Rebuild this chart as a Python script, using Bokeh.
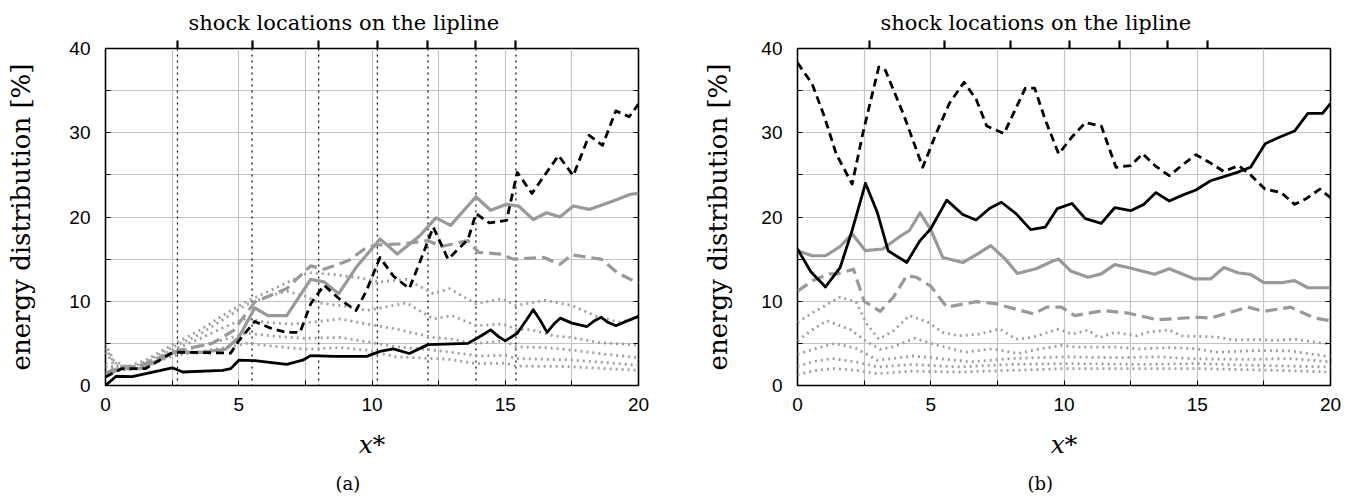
from bokeh.plotting import figure
from bokeh.models import FixedTicker, LinearAxis, Range1d, Span, Title
from bokeh.layouts import row
from bokeh.embed import file_html
from bokeh.resources import INLINE

# ---------------- data ----------------
shock_x = [2.7, 5.5, 8.0, 10.2, 12.1, 13.9, 15.4]
x_ticks = [0, 5, 10, 15, 20]
x_minor = [2.5, 7.5, 12.5, 17.5]
y_ticks = [0, 10, 20, 30, 40]
y_minor = [5, 15, 25, 35]

# panel (a)
a_bs_x = [0, 0.4, 1.0, 2.5, 2.9, 4.4, 4.7, 5.0, 5.6, 6.8, 7.4, 7.7, 8.6, 9.8, 10.3, 10.8, 11.4, 12.1, 13.0, 13.6,
          14.1, 14.45, 14.75, 15.0, 15.45, 15.8, 16.05, 16.3, 16.57, 16.8, 17.07, 17.5, 18.07, 18.35, 18.6, 18.85,
          19.15, 19.6, 20]
a_bs_y = [0, 1.1, 1.05, 2.1, 1.6, 1.8, 2.0, 3.0, 2.95, 2.5, 3.0, 3.55, 3.45, 3.45, 4.05, 4.35, 3.8, 4.85, 4.95, 5.0,
          5.9, 6.6, 5.8, 5.3, 6.2, 7.8, 9.0, 7.8, 6.3, 7.2, 8.0, 7.4, 7.0, 7.7, 8.1, 7.5, 7.1, 7.7, 8.2]

a_bd_x = [0, 0.6, 1.5, 2.5, 2.8, 4.7, 5.0, 5.6, 6.2, 6.8, 7.3, 7.7, 8.2, 8.8, 9.4, 9.8, 10.3, 10.8, 11.4, 11.9,
          12.3, 12.85, 13.6, 13.9, 14.4, 15.05, 15.45, 16.0, 17.0, 17.55, 18.15, 18.65, 19.15, 19.65, 20]
a_bd_y = [1.0, 2.0, 2.0, 3.9, 3.95, 3.85, 5.3, 7.6, 6.8, 6.3, 6.3, 9.7, 11.9, 10.2, 8.9, 11.3, 15.2, 13.0, 11.5, 15.5,
          18.8, 15.0, 17.3, 20.4, 19.3, 19.6, 25.3, 22.8, 27.3, 24.9, 29.7, 28.5, 32.6, 31.9, 33.4]

a_gs_x = [0, 0.6, 1.3, 2.0, 2.6, 3.5, 4.5, 5.0, 5.6, 6.1, 6.8, 7.7, 8.2, 8.75, 9.4, 10.3, 10.95, 11.8, 12.4, 12.95,
          13.9, 14.45, 15.05, 15.5, 16.05, 16.55, 17.05, 17.55, 18.15, 19.05, 19.7, 20]
a_gs_y = [1.2, 2.0, 2.0, 3.0, 4.0, 3.9, 4.3, 5.7, 9.2, 8.3, 8.3, 12.6, 12.3, 10.9, 14.0, 17.4, 15.6, 17.8, 19.9, 19.0,
          22.4, 20.8, 21.5, 21.3, 19.7, 20.5, 20.0, 21.3, 20.9, 21.9, 22.7, 22.8]

a_gd_x = [0, 0.6, 1.3, 2.0, 2.8, 4.0, 4.8, 5.6, 6.8, 7.7, 8.2, 9.1, 9.8, 10.3, 11.1, 12.1, 12.6, 13.6, 14.0, 14.8,
          15.3, 16.45, 17.05, 17.5, 18.6, 19.2, 20]
a_gd_y = [1.5, 2.2, 2.3, 3.3, 4.2, 5.0, 6.5, 9.9, 11.5, 14.2, 13.8, 14.8, 16.4, 16.7, 16.8, 17.2, 16.5, 17.2, 15.8,
          15.6, 15.0, 15.2, 14.4, 15.5, 15.0, 13.4, 12.1]

a_d1_x = [0, 0.3, 0.8, 1.5, 2.5, 3.5, 4.5, 5.3, 6.0, 7.0, 7.6, 8.5, 9.5, 10.3, 11.3, 12.3, 12.9, 13.9, 14.9, 15.4,
          16.5, 17.5, 18.5, 19.3, 20]
a_d1_y = [5.0, 3.0, 2.2, 3.0, 4.8, 6.5, 8.5, 10.0, 11.0, 12.5, 13.4, 13.2, 12.8, 12.3, 12.6, 10.9, 11.5, 9.7, 10.3,
          9.5, 10.1, 9.5, 8.1, 7.5, 8.1]
a_d2_x = [0, 0.3, 0.8, 1.5, 2.5, 3.5, 4.5, 5.3, 6.0, 6.8, 7.5, 8.0, 9.0, 9.8, 11.3, 12.3, 13.0, 13.9, 14.9, 15.4,
          16.0, 16.8, 17.5, 18.5, 20]
a_d2_y = [4.5, 2.8, 2.0, 2.8, 4.5, 6.0, 8.0, 9.6, 10.5, 11.2, 10.6, 9.8, 9.4, 8.9, 9.8, 7.9, 8.3, 7.1, 7.3, 6.7,
          6.6, 5.9, 5.7, 5.1, 4.8]
a_d3_x = [0, 0.3, 0.8, 1.5, 2.5, 3.5, 4.5, 5.3, 6.0, 7.0, 8.0, 8.8, 9.8, 10.9, 12.3, 13.0, 13.9, 15.0, 15.4, 16.5,
          17.5, 18.5, 20]
a_d3_y = [4.0, 2.5, 2.0, 2.6, 4.2, 5.5, 7.0, 8.0, 7.5, 7.3, 7.6, 7.9, 7.3, 6.7, 5.7, 5.5, 5.0, 5.3, 4.6, 4.5,
          4.2, 3.8, 3.3]
a_d4_x = [0, 0.3, 0.8, 1.5, 2.5, 3.5, 4.5, 5.3, 6.5, 7.5, 8.8, 9.8, 10.9, 12.3, 13.1, 14.0, 15.0, 15.4, 17.3,
          18.5, 20]
a_d4_y = [2.6, 2.2, 1.9, 2.4, 3.8, 4.6, 5.5, 6.2, 5.8, 5.6, 5.7, 5.2, 4.6, 4.2, 3.9, 3.5, 3.6, 3.2, 3.05, 2.8, 2.4]
a_d5_x = [0, 0.3, 0.8, 1.5, 2.5, 3.5, 4.5, 5.3, 6.5, 7.5, 8.8, 9.8, 10.9, 12.3, 12.9, 13.9, 15.0, 15.4, 17.3, 20]
a_d5_y = [2.2, 2.0, 1.8, 2.2, 3.5, 4.0, 4.5, 5.0, 4.6, 4.3, 4.5, 4.2, 3.4, 3.2, 3.1, 2.6, 2.65, 2.3, 2.25, 1.8]

# panel (b)
b_bs_x = [0, 0.5, 1.05, 1.6, 2.05, 2.55, 3.0, 3.4, 4.1, 4.6, 5.0, 5.6, 6.2, 6.7, 7.2, 7.65, 8.2, 8.75, 9.3, 9.75,
          10.3, 10.8, 11.4, 11.9, 12.5, 13.0, 13.45, 13.95, 14.45, 14.95, 15.5, 16.0, 16.5, 17.0, 17.55, 18.1,
          18.65, 19.15, 19.7, 20]
b_bs_y = [16.2, 13.5, 11.7, 14.0, 18.4, 24.0, 20.5, 16.0, 14.6, 17.2, 18.6, 22.0, 20.3, 19.65, 21.0, 21.75, 20.4,
          18.5, 18.8, 21.0, 21.6, 19.8, 19.25, 21.1, 20.75, 21.5, 22.9, 21.9, 22.6, 23.2, 24.3, 24.8, 25.3, 25.9,
          28.7, 29.5, 30.2, 32.3, 32.3, 33.5]

b_bd_x = [0, 0.55, 1.0, 1.45, 2.05, 2.45, 3.05, 3.3, 4.0, 4.7, 5.2, 5.7, 6.25, 6.7, 7.1, 7.75, 8.15, 8.55, 8.9,
          9.3, 9.8, 10.3, 10.8, 11.4, 11.95, 12.5, 12.95, 13.45, 13.95, 14.45, 14.95, 15.5, 16.0, 16.55, 17.0,
          17.55, 18.15, 18.65, 19.1, 19.6, 20]
b_bd_y = [38.3, 35.8, 32.0, 27.5, 23.9, 29.9, 37.8, 37.4, 32.0, 25.9, 29.9, 33.5, 36.0, 34.0, 30.8, 29.9, 32.6,
          35.3, 35.3, 31.5, 27.5, 29.5, 31.2, 30.8, 25.9, 26.1, 27.5, 26.0, 24.9, 26.2, 27.4, 26.4, 25.4, 26.1,
          25.0, 23.3, 22.9, 21.5, 22.2, 23.3, 22.3]

b_gs_x = [0, 0.55, 1.05, 1.6, 2.05, 2.55, 3.2, 3.8, 4.2, 4.6, 5.0, 5.45, 6.2, 6.7, 7.25, 7.8, 8.25, 8.95, 9.6, 9.8,
          10.25, 10.9, 11.4, 11.9, 12.4, 13.4, 13.95, 14.9, 15.5, 16.0, 16.55, 17.0, 17.5, 18.15, 18.65, 19.15, 20]
b_gs_y = [16.0, 15.4, 15.4, 16.5, 18.0, 16.0, 16.2, 17.6, 18.4, 20.5, 18.5, 15.2, 14.6, 15.5, 16.6, 15.0, 13.3,
          13.85, 14.8, 15.0, 13.6, 12.85, 13.25, 14.35, 14.0, 13.2, 13.85, 12.65, 12.65, 14.0, 13.35, 13.2, 12.2,
          12.2, 12.45, 11.6, 11.6]

b_gd_x = [0, 0.6, 1.2, 1.5, 2.1, 2.5, 3.1, 3.6, 4.1, 4.45, 5.0, 5.6, 6.7, 7.45, 8.85, 9.35, 9.9, 10.4, 11.5, 12.4,
          13.5, 15.0, 15.5, 16.9, 17.5, 18.5, 19.4, 20]
b_gd_y = [11.2, 12.5, 13.25, 13.25, 13.8, 10.0, 8.8, 10.5, 13.05, 12.85, 11.8, 9.3, 9.95, 9.7, 8.5, 9.3, 9.3, 8.3,
          8.9, 8.6, 7.8, 8.1, 8.0, 9.3, 8.8, 9.3, 8.0, 7.7]

b_d1_x = [0, 0.6, 1.6, 2.2, 2.6, 3.05, 3.6, 4.2, 4.9, 5.45, 6.05, 6.8, 7.6, 8.2, 8.8, 9.8, 10.3, 10.9, 11.3, 11.9,
          12.75, 13.1, 13.95, 14.4, 15.75, 16.4, 17.25, 17.9, 18.65, 20]
b_d1_y = [7.5, 8.7, 10.5, 9.9, 7.3, 5.5, 6.5, 8.3, 7.5, 6.3, 5.9, 6.1, 6.7, 5.5, 5.7, 6.7, 6.1, 6.6, 5.65, 6.3,
          5.9, 6.3, 6.6, 5.9, 5.75, 5.4, 5.45, 5.35, 5.5, 4.9]
b_d2_x = [0, 0.5, 1.1, 2.0, 2.6, 3.1, 3.6, 4.4, 5.0, 5.5, 6.3, 7.3, 8.3, 9.0, 9.9, 10.5, 12.0, 12.8, 14.0, 15.0,
          15.75, 17.25, 18.5, 20]
b_d2_y = [5.3, 6.5, 7.7, 6.6, 5.2, 4.3, 4.6, 5.6, 5.0, 4.6, 3.95, 4.35, 3.8, 4.3, 4.75, 4.55, 4.55, 4.35, 4.5, 4.35,
          3.95, 4.15, 4.1, 3.4]
b_d3_x = [0, 0.7, 1.4, 2.2, 3.0, 3.6, 4.3, 5.0, 6.5, 8.0, 10.0, 12.0, 13.5, 15.0, 17.0, 18.5, 20]
b_d3_y = [3.7, 4.4, 5.0, 4.4, 3.0, 3.2, 3.5, 3.3, 2.8, 3.2, 3.4, 3.3, 3.4, 3.16, 3.1, 3.2, 2.8]
b_d4_x = [0, 0.7, 1.3, 2.2, 3.0, 4.3, 6.0, 8.0, 10.0, 13.0, 15.0, 17.0, 20]
b_d4_y = [2.3, 2.9, 3.2, 2.8, 2.2, 2.5, 2.2, 2.5, 2.6, 2.5, 2.6, 2.4, 2.2]
b_d5_x = [0, 0.7, 1.4, 2.2, 3.0, 4.3, 6.0, 9.0, 10.0, 15.0, 18.0, 20]
b_d5_y = [1.3, 1.8, 2.0, 1.8, 1.4, 1.7, 1.6, 1.9, 2.0, 2.0, 1.8, 1.6]

top_title = "shock locations on the lipline"
y_title = "energy distribution [%]"
x_title = "x*"

# ---------------- styles ----------------
BLACK = "#000000"
GRAY = "#999999"
DOT = "#a0a0a0"
GRID = "#c4c4c4"
SERIF = "DejaVu Serif"
SANS = "Liberation Sans"


def make_panel(series, tag, shock_lines, b_left, b_right, ylab_standoff):
    p = figure(frame_width=533, frame_height=337, output_backend="svg", toolbar_location=None,
               x_range=Range1d(0, 20), y_range=Range1d(0, 40),
               min_border_left=b_left, min_border_right=b_right, min_border_top=48, min_border_bottom=100,
               x_axis_location="below", y_axis_location="left")
    p.background_fill_color = "white"
    p.border_fill_color = "white"
    p.outline_line_color = BLACK
    p.outline_line_width = 1.6
    p.outline_line_alpha = 1.0

    # axes
    p.xaxis.ticker = FixedTicker(ticks=x_ticks, minor_ticks=x_minor)
    p.yaxis.ticker = FixedTicker(ticks=y_ticks, minor_ticks=y_minor)
    for ax in (p.xaxis[0], p.yaxis[0]):
        ax.axis_line_color = None
        ax.major_tick_in = 5
        ax.major_tick_out = 0
        ax.minor_tick_in = 5
        ax.minor_tick_out = 0
        ax.major_tick_line_color = BLACK
        ax.minor_tick_line_color = BLACK
        ax.major_label_text_font = SANS
        ax.major_label_text_font_size = "19px"
        ax.major_label_text_color = BLACK
    p.xaxis.major_label_standoff = 12
    p.yaxis.major_label_standoff = 15

    p.yaxis.axis_label = y_title
    p.yaxis.axis_label_text_font = SERIF
    p.yaxis.axis_label_text_font_style = "normal"
    p.yaxis.axis_label_text_font_size = "26px"
    p.yaxis.axis_label_text_color = BLACK
    p.yaxis.axis_label_standoff = ylab_standoff

    p.xaxis.axis_label = x_title
    p.xaxis.axis_label_text_font = SERIF
    p.xaxis.axis_label_text_font_style = "italic"
    p.xaxis.axis_label_text_font_size = "25px"
    p.xaxis.axis_label_text_color = BLACK
    p.xaxis.axis_label_standoff = 16

    right = LinearAxis(ticker=FixedTicker(ticks=y_ticks + y_minor), axis_line_color=None,
                       major_tick_in=5, major_tick_out=0, major_label_text_font_size="1px",
                       major_label_text_color=None, major_label_standoff=0)
    p.add_layout(right, "right")

    top = LinearAxis(ticker=FixedTicker(ticks=shock_x), axis_line_color=None,
                     major_tick_in=0, major_tick_out=8, major_tick_line_width=2.2,
                     major_tick_line_color=BLACK, major_label_text_font_size="1px",
                     major_label_text_color=None,
                     major_label_standoff=0, minor_tick_line_color=None)
    p.add_layout(top, "above")

    p.add_layout(Title(text=top_title, align="left", offset=83, text_font=SERIF, text_font_style="normal",
                       text_font_size="21px", text_color=BLACK, standoff=12), "above")
    p.add_layout(Title(text=tag, align="left", offset=230, text_font=SERIF, text_font_style="normal",
                       text_font_size="18px", text_color=BLACK, standoff=18), "below")

    # grids
    for g in (p.xgrid[0], p.ygrid[0]):
        g.grid_line_color = GRID
        g.minor_grid_line_color = GRID
        g.grid_line_width = 1.2
        g.minor_grid_line_width = 1.2

    if shock_lines:
        for s in shock_x:
            p.add_layout(Span(location=s, dimension="height", line_color=BLACK, line_width=1.2,
                              line_dash="2 4", level="underlay"))

    for (xs, ys, color, width, dash) in series:
        p.line(xs, ys, line_color=color, line_width=width, line_dash=dash, line_join="round")
    return p


series_a = [
    (a_d5_x, a_d5_y, DOT, 2.8, "2 4"),
    (a_d4_x, a_d4_y, DOT, 2.8, "2 4"),
    (a_d3_x, a_d3_y, DOT, 2.8, "2 4"),
    (a_d2_x, a_d2_y, DOT, 2.8, "2 4"),
    (a_d1_x, a_d1_y, DOT, 2.8, "2 4"),
    (a_gd_x, a_gd_y, GRAY, 3.2, "12 6"),
    (a_gs_x, a_gs_y, GRAY, 3.2, "solid"),
    (a_bs_x, a_bs_y, BLACK, 2.8, "solid"),
    (a_bd_x, a_bd_y, BLACK, 2.8, "8 5"),
]
series_b = [
    (b_d5_x, b_d5_y, DOT, 2.8, "2 4"),
    (b_d4_x, b_d4_y, DOT, 2.8, "2 4"),
    (b_d3_x, b_d3_y, DOT, 2.8, "2 4"),
    (b_d2_x, b_d2_y, DOT, 2.8, "2 4"),
    (b_d1_x, b_d1_y, DOT, 2.8, "2 4"),
    (b_gd_x, b_gd_y, GRAY, 3.2, "12 6"),
    (b_gs_x, b_gs_y, GRAY, 3.2, "solid"),
    (b_bs_x, b_bs_y, BLACK, 2.8, "solid"),
    (b_bd_x, b_bd_y, BLACK, 2.8, "8 5"),
]

pa = make_panel(series_a, "(a)", True, 105, 62, 30)
pb = make_panel(series_b, "(b)", False, 95, 20, 25)

layout = row(pa, pb)
open("out.html", "w").write(file_html(layout, INLINE))
